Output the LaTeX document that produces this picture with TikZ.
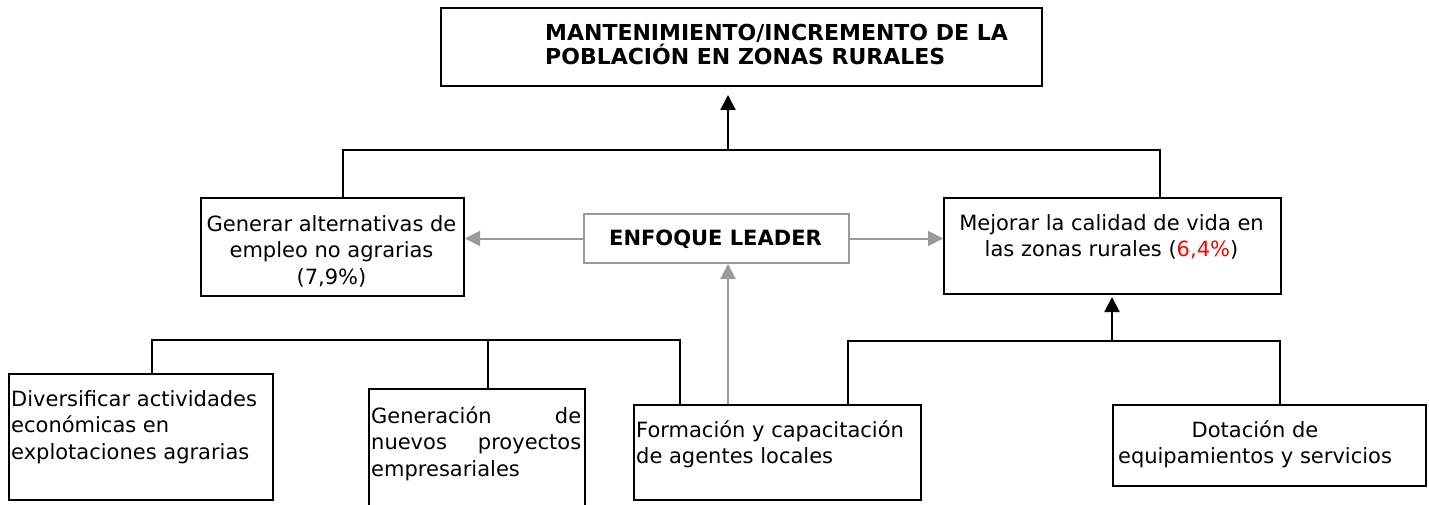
\documentclass[tikz,border=0pt]{standalone}
\usepackage{fontspec}
\setmainfont{DejaVu Sans}
\usetikzlibrary{arrows.meta}
\definecolor{lg}{RGB}{153,153,153}
\newcommand\fs{\rule{0pt}{20pt}}
\tikzset{
  box/.style={draw=black, line width=2pt, anchor=north west, inner sep=0pt},
  gbox/.style={draw=lg, line width=2pt, anchor=north west, inner sep=0pt},
  lbl/.style={inner sep=0pt, font=\fontsize{21}{26.5}\selectfont},
  conn/.style={line width=2pt, draw=black},
  arr/.style={line width=2pt, draw=black, -{Triangle[length=15pt,width=15pt]}},
  garr/.style={line width=2pt, draw=lg, -{Triangle[length=15pt,width=15pt,fill=lg]}}
}
\begin{document}
\begin{tikzpicture}[x=1pt,y=-1pt]
\useasboundingbox[fill=white] (0,0) rectangle (1429,505);
% boxes
\node[box, minimum width=601pt, minimum height=78pt] (top) at (440,7) {};
\node[box, minimum width=263pt, minimum height=98pt] (gen) at (200,197) {};
\node[gbox, minimum width=265pt, minimum height=49pt] (enf) at (583,213) {};
\node[box, minimum width=337pt, minimum height=96pt] (mej) at (943,197) {};
\node[box, minimum width=264pt, minimum height=126pt] (div) at (8,373) {};
\node[box, minimum width=216pt, minimum height=130pt] (nue) at (368,388) {};
\node[box, minimum width=287pt, minimum height=95pt] (form) at (633,404) {};
\node[box, minimum width=313pt, minimum height=81pt] (dot) at (1112,404) {};
% texts
\node[lbl, anchor=north west, align=left, font=\fontsize{22}{24}\selectfont\bfseries] (toptxt) at (545,20)
  {\fs MANTENIMIENTO/INCREMENTO DE LA\\POBLACIÓN EN ZONAS RURALES};
\node[lbl, anchor=north, align=center] (gentxt) at (331.5,211)
  {\fs Generar alternativas de\\empleo no agrarias\\(7,9\%)};
\node[lbl, anchor=base, font=\fontsize{21}{26.5}\selectfont\bfseries] (enftxt) at (715.5,245) {ENFOQUE LEADER};
\node[lbl, anchor=north, align=center] (mejtxt) at (1111.5,210)
  {\fs Mejorar la calidad de vida en\\las zonas rurales (\textcolor{red}{6,4\%})};
\node[lbl, anchor=north west, align=left] (divtxt) at (11,386)
  {\fs Diversificar actividades\\económicas en\\explotaciones agrarias};
\node[lbl, anchor=north west, align=left, text width=210pt] (nuetxt) at (371,403)
  {\fs Generación\hskip 0pt plus 1fill de\\nuevos\hskip 0pt plus 1fill proyectos\\empresariales};
\node[lbl, anchor=north west, align=left] (formtxt) at (636,417)
  {\fs Formación y capacitación\\de agentes locales};
\node[lbl, anchor=north, align=center] (dottxt) at (1255,417)
  {\fs Dotación de\\equipamientos y servicios};
% upper connectors
\coordinate (j1) at (343,150);
\coordinate (j2) at (1160,150);
\coordinate (jt) at (728,150);
\draw[conn] (j1 |- gen.north) -- (j1) -- (j2) -- (j2 |- mej.north);
\draw[arr, shorten >=8pt] (jt) -- (jt |- top.south);
% gray arrows
\draw[garr] (enf.west) -- (enf.west -| gen.east);
\draw[garr] (enf.east) -- (enf.east -| mej.west);
\coordinate (ga) at (728,300);
\draw[garr] (ga |- form.north) -- (ga |- enf.south);
% lower left connectors
\coordinate (b1) at (152,340);
\coordinate (b2) at (488,340);
\coordinate (b3) at (680,340);
\draw[conn] (b1 |- div.north) -- (b1) -- (b3) -- (b3 |- form.north);
\draw[conn] (b2) -- (b2 |- nue.north);
% lower right connectors
\coordinate (r1) at (848,341);
\coordinate (r2) at (1112,341);
\coordinate (r3) at (1280,341);
\draw[conn] (r1 |- form.north) -- (r1) -- (r3) -- (r3 |- dot.north);
\draw[arr, shorten >=2pt] (r2) -- (r2 |- mej.south);
\end{tikzpicture}
\end{document}
